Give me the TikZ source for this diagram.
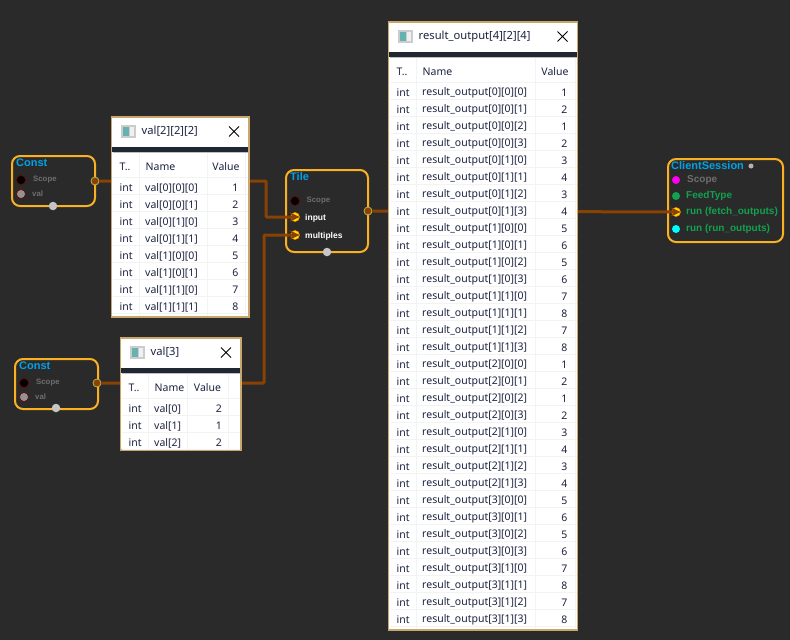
\documentclass[tikz,border=0pt]{standalone}
\usepackage{fontspec}
\setmainfont{Noto Sans}
\newfontfamily\labelfont{Liberation Sans}
\usetikzlibrary{arrows.meta, positioning, calc}
\definecolor{canvasgray}{HTML}{2A2A2A}
\definecolor{nodeorange}{HTML}{F9B122}
\definecolor{titleblue}{HTML}{00A2E8}
\definecolor{wirebrown}{HTML}{8A4204}
\definecolor{stripdark}{HTML}{1F2733}
\definecolor{frametan}{HTML}{C9A66B}
\definecolor{celltext}{HTML}{1C2340}
\definecolor{cellline}{HTML}{F3F3F3}
\definecolor{labelgreen}{HTML}{12A24E}
\definecolor{labelgray}{HTML}{6E6E6E}
\definecolor{portmagenta}{HTML}{FF00EE}
\definecolor{portcyan}{HTML}{00FFFF}
\tikzset{
  opbox/.style={draw=nodeorange, line width=2pt, rounded corners=8pt, anchor=north west, inner sep=0pt, outer sep=0pt},
  optitle/.style={font=\labelfont\bfseries\fontsize{11}{13}\selectfont, titleblue, inner sep=0pt, anchor=west},
  portlabel/.style={font=\labelfont\bfseries\fontsize{8.5}{10}\selectfont, inner sep=0pt, anchor=west},
  scopelabel/.style={font=\labelfont\bfseries\fontsize{7.8}{10}\selectfont, labelgray, inner sep=0pt, anchor=west},
  sessionlabel/.style={font=\labelfont\bfseries\fontsize{10}{12}\selectfont, labelgreen, inner sep=0pt, anchor=west},
  portdot/.style={circle, minimum size=#1, inner sep=0pt},
  wire/.style={wirebrown, line width=3pt, rounded corners=1pt},
  wirein/.style={wire, -{Stealth[length=10pt, width=9pt]}},
  outport/.style={portdot=8pt, fill=wirebrown, draw=olive!60!white, line width=0.8pt},
  inport/.style={portdot=9pt, fill=yellow!90!orange, draw=orange, line width=0.6pt},
  blackport/.style={portdot=9pt, fill=black, draw=red!45!black, line width=0.6pt},
  grayport/.style={portdot=9pt, fill=gray!85!white, draw=red!45!black, line width=0.6pt},
  bottomport/.style={portdot=8.5pt, fill=gray!45!white},
  cell/.style={font=\fontsize{10.5}{12}\selectfont, celltext, inner sep=0pt},
  celltype/.style={cell, anchor=west},
  cellname/.style={cell, anchor=west},
  cellvalue/.style={cell, anchor=east},
  wintitle/.style={font=\fontsize{11.2}{13}\selectfont, celltext, inner sep=0pt, anchor=west},
}
% #1 name, #2 x, #3 y, #4 width, #5 height, #6 value column left, #7 value column right, #8 title
\newcommand{\tablewin}[8]{
  \node[fill=white, draw=frametan, line width=1.2pt, minimum width=#4, minimum height=#5, inner sep=0pt, outer sep=0pt, anchor=north west] (#1) at (#2,#3) {};
  \begin{scope}[shift={(#2,#3)}]
    \fill[stripdark] (0.6,30) rectangle (#4-0.6,35);
    \fill[gray!50!white] (1,35) rectangle (#4-1,36);
    \foreach \yy in {60.5,77.5,...,#5} {
      \draw[cellline, line width=1pt] (1,\yy) -- (#4-1,\yy);
    }
    \foreach \xx in {28,#6,#7} {
      \draw[cellline, line width=1pt] (\xx,36) -- (\xx,#5-1);
    }
    \fill[gray!40!white] (9,8) rectangle (24,21);
    \fill[teal!60!white] (11,10) rectangle (17,19);
    \fill[gray!12!white] (18,10) rectangle (22,19);
    \node[wintitle] (#1-title) at (30,14.5) {#8};
    \draw[black, line width=0.8pt] (#4-20,9.5) -- (#4-10,19.5) (#4-10,9.5) -- (#4-20,19.5);
    \node[celltype] (#1-htype) at (8,50) {T..};
    \node[cellname] (#1-hname) at (34,50) {Name};
    \node[cell] (#1-hvalue) at ({(#6+#7)/2},50) {Value};
  \end{scope}
}
\begin{document}
\begin{tikzpicture}[x=1pt, y=-1pt]
  \fill[canvasgray] (0,0) rectangle (790,640);
  \useasboundingbox (0,0) rectangle (790,640);
  % operation nodes
  \node[opbox, minimum width=83pt, minimum height=50pt] (constA) at (12,156) {};
  \node[optitle] (constAtitle) at (16,162.5) {Const};
  \node[blackport] (constAscope) at (21,180) {};
  \node[grayport] (constAval) at (21,194) {};
  \node[scopelabel] (constAscopetxt) at (33,180) {Scope};
  \node[scopelabel] (constAvaltxt) at (32,194) {val};
  \node[outport] (constAout) at (95,181) {};
  \node[bottomport] (constAbot) at (53,206) {};

  \node[opbox, minimum width=83pt, minimum height=50pt] (constB) at (15,359) {};
  \node[optitle] (constBtitle) at (19,365.5) {Const};
  \node[blackport] (constBscope) at (24,383) {};
  \node[grayport] (constBval) at (24,397) {};
  \node[scopelabel] (constBscopetxt) at (36,383) {Scope};
  \node[scopelabel] (constBvaltxt) at (35,397) {val};
  \node[outport] (constBout) at (97,383) {};
  \node[bottomport] (constBbot) at (56,408) {};

  \node[opbox, minimum width=82pt, minimum height=82pt] (tile) at (286,170) {};
  \node[optitle] (tiletitle) at (290,176.5) {Tile};
  \node[blackport] (tilescope) at (295,201) {};
  \node[inport] (tileinput) at (295,217) {};
  \node[inport] (tilemult) at (295,235) {};
  \node[scopelabel] (tilescopetxt) at (306.5,201) {Scope};
  \node[portlabel, white] (tileinputtxt) at (305,218) {input};
  \node[portlabel, white] (tilemulttxt) at (305,236) {multiples};
  \node[outport] (tileout) at (368,211) {};
  \node[bottomport] (tilebot) at (327,252) {};

  \node[opbox, minimum width=115pt, minimum height=83pt] (session) at (668,159) {};
  \node[optitle] (sessiontitle) at (671,165.5) {ClientSession};
  \node[portdot=5pt, fill=gray!60!white] (sessiondot) at (751,166) {};
  \node[portdot=8pt, fill=portmagenta] (sessionscope) at (676,180) {};
  \node[portdot=8pt, fill=labelgreen] (sessionfeed) at (676,196) {};
  \node[inport] (sessionfetch) at (676,212) {};
  \node[portdot=8pt, fill=portcyan] (sessionrun) at (676,229) {};
  \node[sessionlabel, labelgray] (sessionscopetxt) at (687,180) {Scope};
  \node[sessionlabel] (sessionfeedtxt) at (686,196) {FeedType};
  \node[sessionlabel] (sessionfetchtxt) at (686,212) {run (fetch\_outputs)};
  \node[sessionlabel] (sessionruntxt) at (686,229) {run (run\_outputs)};

  % connectors
  \coordinate (bendA) at (266,181);
  \coordinate (bendAin) at (266,217);
  \coordinate (bendB) at (264,383);
  \coordinate (bendBin) at (264,235);
  \draw[wirein] (constAout) -- (bendA) -- (bendAin) -- (tileinput.east);
  \draw[wirein] (constBout) -- (bendB) -- (bendBin) -- (tilemult.east);
  \draw[wirein] (tileout) -- (sessionfetch.east);

  % value tables
  \tablewin{tabA}{111.5}{117}{137.5}{200}{95.5}{133.5}{val[2][2][2]}
  \begin{scope}[shift={(111.5,117)}]
    \foreach \i/\nm/\v in {0/val[0][0][0]/1, 1/val[0][0][1]/2, 2/val[0][1][0]/3, 3/val[0][1][1]/4,
                           4/val[1][0][0]/5, 5/val[1][0][1]/6, 6/val[1][1][0]/7, 7/val[1][1][1]/8} {
      \node[celltype] (tabA-type-\i) at (8,71+17*\i) {int};
      \node[cellname] (tabA-name-\i) at (33.5,71+17*\i) {\nm};
      \node[cellvalue] (tabA-val-\i) at (127,71+17*\i) {\v};
    }
  \end{scope}

  \tablewin{tabB}{120.5}{338}{120.5}{112}{66.5}{107.5}{val[3]}
  \begin{scope}[shift={(120.5,338)}]
    \foreach \i/\nm/\v in {0/val[0]/2, 1/val[1]/1, 2/val[2]/2} {
      \node[celltype] (tabB-type-\i) at (8,71+17*\i) {int};
      \node[cellname] (tabB-name-\i) at (33.5,71+17*\i) {\nm};
      \node[cellvalue] (tabB-val-\i) at (101.5,71+17*\i) {\v};
    }
  \end{scope}

  \tablewin{tabC}{388.5}{22}{189}{608}{146.5}{186.5}{result\_output[4][2][4]}
  \begin{scope}[shift={(388.5,22)}]
    \foreach \i in {0,...,31} {
      \pgfmathtruncatemacro{\ia}{div(\i,8)}
      \pgfmathtruncatemacro{\ib}{mod(div(\i,4),2)}
      \pgfmathtruncatemacro{\ic}{mod(\i,4)}
      \pgfmathtruncatemacro{\v}{2*div(mod(\i,16),4)+mod(\i,2)+1}
      \node[celltype] (tabC-type-\i) at (8,71+17*\i) {int};
      \node[cellname] (tabC-name-\i) at (33.5,71+17*\i) {result\_output[\ia][\ib][\ic]};
      \node[cellvalue] (tabC-val-\i) at (179,71+17*\i) {\v};
    }
  \end{scope}
\end{tikzpicture}
\end{document}
